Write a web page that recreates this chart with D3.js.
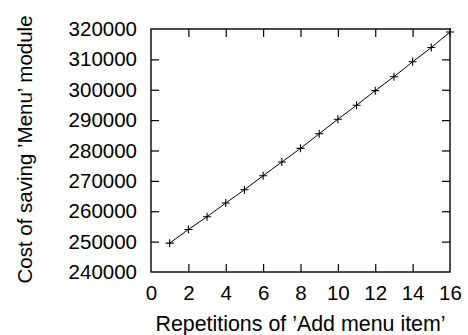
<!DOCTYPE html>
<html>
<head>
<meta charset="utf-8">
<script src="https://cdn.jsdelivr.net/npm/d3@7/dist/d3.min.js"></script>
<style>
  body { margin: 0; background: #fff; }
  svg { display: block; }
  text { font-family: "Liberation Sans", Arial, Helvetica, sans-serif; fill: #000; }
</style>
</head>
<body>
<div id="chart"></div>
<script>

var repetitions = [1, 2, 3, 4, 5, 6, 7, 8, 9, 10, 11, 12, 13, 14, 15, 16];
var costs = [249500, 254000, 258200, 262700, 267100, 271700, 276200, 280700,
             285500, 290300, 294900, 299700, 304300, 309200, 313900, 319000];
var xTicks = [0, 2, 4, 6, 8, 10, 12, 14, 16];
var yTicks = [240000, 250000, 260000, 270000, 280000, 290000, 300000, 310000, 320000];

var settings = {
  width: 468,
  height: 335,
  left: 151,
  right: 18,
  top: 29,
  bottom: 63,
  tick: 8,
  fontSize: 20.5
};

function drawChart( settings ) {

  var svg = d3.select('#chart').append('svg')
    .attr('width', settings.width)
    .attr('height', settings.height);

  var innerW = settings.width - settings.left - settings.right;
  var innerH = settings.height - settings.top - settings.bottom;

  var scaleX = d3.scaleLinear().domain([ 0, 16 ]).range([ 0, innerW ]);
  var scaleY = d3.scaleLinear().domain([ 240000, 320000 ]).range([ innerH, 0 ]);

  var plot = svg.append('g')
    .attr('transform', 'translate(' + settings.left + ',' + settings.top + ')');

  // gnuplot style: inward ticks, mirrored on all four sides
  var axisBottom = d3.axisBottom(scaleX).tickValues(xTicks).tickSizeInner(-settings.tick).tickSizeOuter(0).tickPadding(13);
  var axisTop = d3.axisTop(scaleX).tickValues(xTicks).tickSizeInner(-settings.tick).tickSizeOuter(0).tickFormat('');
  var axisLeft = d3.axisLeft(scaleY).tickValues(yTicks).tickSizeInner(-settings.tick).tickSizeOuter(0).tickPadding(14)
    .tickFormat(d3.format('d'));
  var axisRight = d3.axisRight(scaleY).tickValues(yTicks).tickSizeInner(-settings.tick).tickSizeOuter(0).tickFormat('');

  var gB = plot.append('g').attr('transform', 'translate(0,' + innerH + ')').call(axisBottom);
  var gT = plot.append('g').call(axisTop);
  var gL = plot.append('g').call(axisLeft);
  var gR = plot.append('g').attr('transform', 'translate(' + innerW + ',0)').call(axisRight);

  [gB, gT, gL, gR].forEach(function( g ) {
    g.select('.domain').remove();
    g.selectAll('.tick line').attr('stroke', '#000').attr('stroke-width', 1.2);
    g.selectAll('.tick text')
      .style('font-size', settings.fontSize + 'px')
      .style('font-family', '"Liberation Sans", Arial, sans-serif');
  });

  // end ticks sit on the frame
  gB.selectAll('.tick line').filter(function( d ) { return d === 0 || d === 16; }).remove();
  gT.selectAll('.tick line').filter(function( d ) { return d === 0 || d === 16; }).remove();
  gL.selectAll('.tick line').filter(function( d ) { return d === 240000 || d === 320000; }).remove();
  gR.selectAll('.tick line').filter(function( d ) { return d === 240000 || d === 320000; }).remove();

  plot.append('rect')
    .attr('x', 0).attr('y', 0)
    .attr('width', innerW).attr('height', innerH)
    .attr('fill', 'none')
    .attr('stroke', '#000')
    .attr('stroke-width', 1.4);

  var data = repetitions.map(function( r, i ) { return { x: r, y: costs[i] }; });

  var line = d3.line()
    .x(function( d ) { return scaleX(d.x); })
    .y(function( d ) { return scaleY(d.y); });

  plot.append('path')
    .datum(data)
    .attr('d', line)
    .attr('fill', 'none')
    .attr('stroke', '#000')
    .attr('stroke-width', 1);

  var s = 4;
  plot.selectAll('.pt')
    .data(data)
    .enter()
    .append('path')
    .classed('pt', true)
    .attr('d', function( d ) {
      var x = scaleX(d.x), y = scaleY(d.y);
      return 'M' + (x - s) + ',' + y + 'H' + (x + s) + 'M' + x + ',' + (y - s) + 'V' + (y + s);
    })
    .attr('stroke', '#000')
    .attr('stroke-width', 1.1);

  svg.append('text')
    .attr('x', settings.left + innerW / 2)
    .attr('y', 331)
    .attr('text-anchor', 'middle')
    .style('font-size', '21.4px')
    .text('Repetitions of \u2019Add menu item\u2019');

  svg.append('text')
    .attr('transform', 'translate(32,' + (settings.top + innerH / 2 - 1) + ') rotate(-90)')
    .attr('text-anchor', 'middle')
    .style('font-size', settings.fontSize + 'px')
    .text('Cost of saving \u2019Menu\u2019 module');
}

drawChart(settings);
</script>
</body>
</html>
